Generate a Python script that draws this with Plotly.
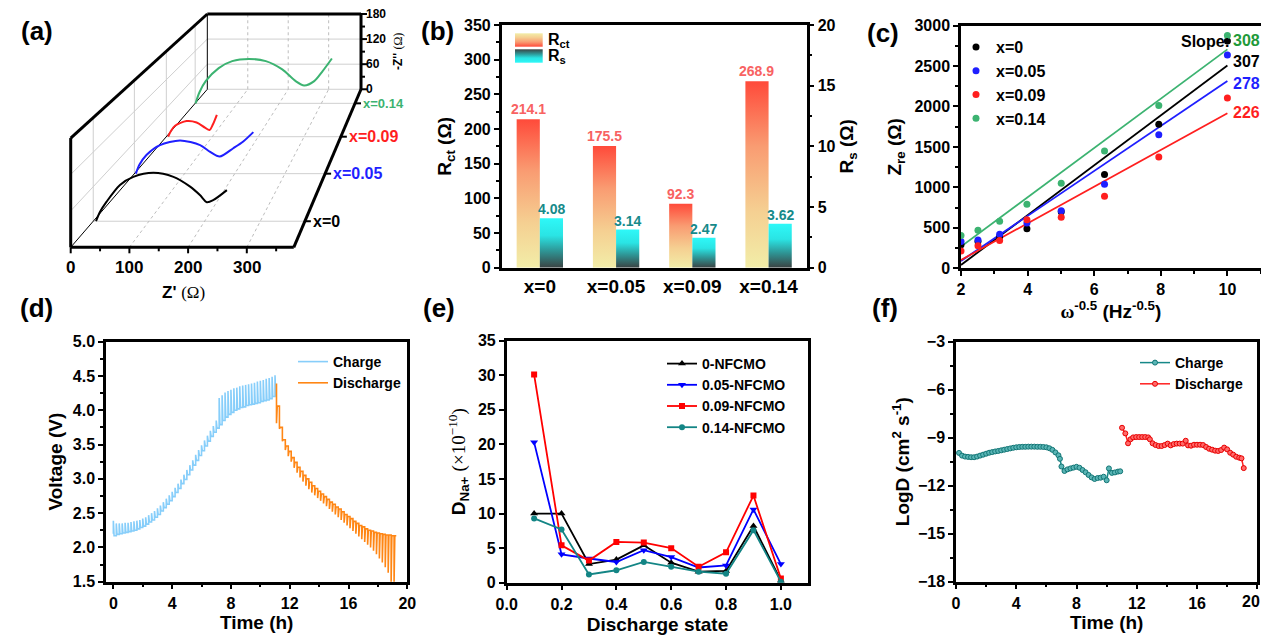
import plotly.graph_objects as go

W, H = 1269, 643           # browser window
OX, OY = 8, 8              # default page margin around the plot div
FW, FH = W - 2 * OX, H - 2 * OY
FONT = "Liberation Sans, Arial, sans-serif"
SERIF = "Liberation Serif, Times New Roman, serif"

# ---------------- (a) Nyquist plots (Z' , -Z'') ----------------
eis_names = ["x=0", "x=0.05", "x=0.09", "x=0.14"]
eis_colors = ["#000000", "#1f1fff", "#ff1f1f", "#3cb371"]
eis_depth = [0.165, 0.466, 0.70, 0.911]
eis_zre_x0 = [5, 12, 24, 48, 72, 108, 144, 174, 192, 204, 216, 240]
eis_zim_x0 = [0, 16, 34, 63, 77, 84, 77, 60, 45, 33, 37, 54]
eis_zre_x005 = [3, 10, 24, 51, 91, 131, 151, 170, 197, 217, 237]
eis_zim_x005 = [0, 17, 36, 55, 64, 55, 42, 33, 49, 62, 80]
eis_zre_x009 = [4, 10, 19, 44, 66, 84, 94, 101, 110]
eis_zim_x009 = [0, 12, 23, 33, 30, 19, 14, 25, 46]
eis_zre_x014 = [1, 10, 25, 56, 88, 128, 168, 207, 239, 259, 283, 303, 325]
eis_zim_x014 = [0, 25, 51, 81, 97, 102, 97, 78, 51, 41, 51, 74, 103]
a_zre_ticks = [0, 100, 200, 300]
a_zim_ticks = [0, 60, 120, 180]
A_ZRE_MAX, A_ZIM_MAX = 380, 180

# ---------------- (b) Rct / Rs bars ----------------
b_cats = ["x=0", "x=0.05", "x=0.09", "x=0.14"]
b_rct = [214.1, 175.5, 92.3, 268.9]
b_rs = [4.08, 3.14, 2.47, 3.62]

# ---------------- (c) Zre vs w^-0.5 ----------------
c_w = [2.0, 2.51, 3.16, 3.98, 5.01, 6.31, 7.94, 10.0]
c_zre_x0 = [290, 330, 390, 490, 700, 1160, 1780, 2810]
c_zre_x005 = [330, 350, 420, 560, 710, 1040, 1650, 2635]
c_zre_x009 = [215, 280, 345, 600, 630, 890, 1375, 2105]
c_zre_x014 = [405, 470, 580, 790, 1050, 1450, 2010, 2875]
c_fit_w = [2.0, 10.0]
c_fit_x0 = [41, 2505]
c_fit_x005 = [91, 2315]
c_fit_x009 = [103, 1915]
c_fit_x014 = [268, 2705]
c_slopes = ["307", "278", "226", "308"]

# ---------------- (d) GITT voltage profile ----------------
d_chg_t = [0.0, 0.2, 0.4, 0.6, 0.8, 1.0, 1.2, 1.4, 1.6, 1.8,
           2.0, 2.2, 2.4, 2.6, 2.8, 3.0, 3.2, 3.4, 3.6, 3.8,
           4.0, 4.2, 4.4, 4.6, 4.8, 5.0, 5.2, 5.4, 5.6, 5.8,
           6.0, 6.2, 6.4, 6.6, 6.8, 7.0, 7.2, 7.4, 7.6, 7.8,
           8.0, 8.2, 8.4, 8.6, 8.8, 9.0, 9.2, 9.4, 9.6, 9.8,
           10.0, 10.2, 10.4, 10.6, 10.8, 11.0]
d_chg_low = [2.20, 2.17, 2.19, 2.20, 2.21, 2.22, 2.23, 2.24, 2.25, 2.27,
             2.29, 2.31, 2.34, 2.37, 2.40, 2.44, 2.48, 2.53, 2.58, 2.63,
             2.68, 2.74, 2.80, 2.86, 2.93, 2.99, 3.06, 3.13, 3.20, 3.27,
             3.34, 3.41, 3.48, 3.55, 3.62, 3.68, 3.74, 3.79, 3.85, 3.90,
             3.94, 3.97, 4.00, 4.02, 4.04, 4.05, 4.07, 4.08, 4.09, 4.10,
             4.11, 4.13, 4.14, 4.15, 4.17, 4.20]
d_chg_high = [2.39, 2.35, 2.35, 2.35, 2.36, 2.36, 2.37, 2.38, 2.39, 2.40,
              2.42, 2.44, 2.47, 2.50, 2.53, 2.57, 2.61, 2.66, 2.71, 2.76,
              2.81, 2.87, 2.93, 2.99, 3.06, 3.13, 3.20, 3.27, 3.35, 3.42,
              3.49, 3.56, 3.63, 3.70, 3.77, 3.85, 4.18, 4.22, 4.26, 4.28,
              4.30, 4.32, 4.33, 4.35, 4.36, 4.37, 4.38, 4.39, 4.40, 4.42,
              4.43, 4.44, 4.46, 4.47, 4.49, 4.51]
d_dis_t = [11.1, 11.3, 11.5, 11.7, 11.9, 12.1, 12.3, 12.5, 12.7, 12.9,
           13.1, 13.3, 13.5, 13.7, 13.9, 14.1, 14.3, 14.5, 14.7, 14.9,
           15.1, 15.3, 15.5, 15.7, 15.9, 16.1, 16.3, 16.5, 16.7, 16.9,
           17.1, 17.3, 17.5, 17.7, 17.9, 18.1, 18.3, 18.5, 18.7, 18.9, 19.1]
d_dis_top = [4.39, 4.06, 3.75, 3.57, 3.48, 3.40, 3.31, 3.24, 3.17, 3.11,
             3.05, 3.00, 2.95, 2.90, 2.86, 2.82, 2.78, 2.74, 2.70, 2.66,
             2.63, 2.59, 2.56, 2.52, 2.48, 2.45, 2.42, 2.38, 2.35, 2.32,
             2.30, 2.27, 2.25, 2.24, 2.22, 2.21, 2.20, 2.19, 2.18, 2.18, 2.17]
d_dis_bottom = [3.81, 3.73, 3.55, 3.42, 3.33, 3.25, 3.16, 3.09, 3.02, 2.96,
                2.90, 2.85, 2.80, 2.76, 2.72, 2.68, 2.64, 2.60, 2.56, 2.52,
                2.48, 2.44, 2.40, 2.36, 2.32, 2.28, 2.24, 2.20, 2.16, 2.12,
                2.08, 2.04, 2.00, 1.95, 1.90, 1.84, 1.78, 1.71, 1.63, 1.48, 1.48]
d_dis_end = [19.25, 2.17]

# ---------------- (e) D_Na+ vs discharge state ----------------
e_state = [0.1, 0.2, 0.3, 0.4, 0.5, 0.6, 0.7, 0.8, 0.9, 1.0]
e_d_0 = [10.0, 10.0, 2.7, 3.35, 5.4, 2.9, 1.6, 1.7, 8.2, 0.3]
e_d_005 = [20.3, 4.1, 3.5, 3.0, 4.7, 3.7, 2.2, 2.5, 10.6, 2.7]
e_d_009 = [30.1, 5.4, 3.2, 5.9, 5.8, 5.0, 2.3, 4.4, 12.6, 0.6]
e_d_014 = [9.3, 7.7, 1.2, 1.8, 3.0, 2.3, 1.6, 1.3, 7.6, 0.15]

# ---------------- (f) LogD vs time ----------------
f_time_ticks = [0, 4, 8, 12, 16, 20]
f_chg_t = [0.2, 0.4, 0.6, 0.8, 1.0, 1.2, 1.4, 1.6, 1.8, 2.0,
           2.2, 2.4, 2.6, 2.8, 3.0, 3.2, 3.4, 3.6, 3.8, 4.0,
           4.2, 4.4, 4.6, 4.8, 5.0, 5.2, 5.4, 5.6, 5.8, 6.0,
           6.2, 6.4, 6.6, 6.8, 6.9, 7.0, 7.2, 7.4, 7.6, 7.8,
           8.0, 8.2, 8.4, 8.6, 8.8, 9.0, 9.2, 9.4, 9.6, 9.8,
           10.0, 10.15, 10.35, 10.55, 10.75, 10.9]
f_chg_logd = [-9.95, -10.12, -10.18, -10.2, -10.22, -10.22, -10.18, -10.12, -10.06, -10.0,
              -9.94, -9.9, -9.86, -9.83, -9.79, -9.75, -9.71, -9.67, -9.63, -9.6,
              -9.58, -9.57, -9.57, -9.56, -9.56, -9.56, -9.57, -9.57, -9.58, -9.6,
              -9.66, -9.76, -9.92, -10.1, -10.32, -10.8, -11.08, -10.98, -10.92, -10.87,
              -10.82, -10.88, -11.02, -11.16, -11.33, -11.48, -11.58, -11.52, -11.5, -11.44,
              -11.66, -10.92, -11.2, -11.17, -11.12, -11.1]
f_dis_t = [11.02, 11.24, 11.42, 11.58, 11.76, 11.96, 12.16, 12.36, 12.56, 12.76,
           12.87, 13.05, 13.25, 13.45, 13.65, 13.85, 14.05, 14.25, 14.45, 14.65,
           14.85, 15.05, 15.25, 15.4, 15.6, 15.8, 16.0, 16.2, 16.4, 16.6,
           16.8, 17.0, 17.2, 17.4, 17.6, 17.8, 18.0, 18.2, 18.4, 18.6,
           18.8, 18.95, 19.1]
f_dis_logd = [-8.38, -8.73, -9.35, -9.1, -8.98, -8.96, -8.96, -8.96, -8.96, -8.98,
              -9.1, -9.35, -9.46, -9.52, -9.52, -9.46, -9.37, -9.48, -9.4, -9.37,
              -9.37, -9.37, -9.19, -9.48, -9.5, -9.44, -9.44, -9.44, -9.46, -9.58,
              -9.69, -9.75, -9.81, -9.83, -9.77, -9.62, -9.73, -9.94, -10.06, -10.19,
              -10.25, -10.29, -10.9]

# =====================================================================
fig = go.Figure()

# ---- (a) perspective projection onto a screen-pixel canvas axis (x7/y7) ----
P_ORIG = (70.7, 247.3)
P_KX, P_KY = 0.587, 0.607
P_VP = (510.0, -260.8)
P_TB = 0.311


def proj(zr, zi, d):
    x0 = P_ORIG[0] + zr * P_KX
    y0 = P_ORIG[1] - zi * P_KY
    f = d * P_TB
    return x0 + (P_VP[0] - x0) * f, y0 + (P_VP[1] - y0) * f


CAN = dict(xaxis="x7", yaxis="y7", showlegend=False, hoverinfo="skip")


def lines3(segs, color, width, dash="solid"):
    xs, ys = [], []
    for p, q in segs:
        x1, y1 = proj(*p)
        x2, y2 = proj(*q)
        xs += [x1, x2, None]
        ys += [y1, y2, None]
    fig.add_trace(go.Scatter(x=xs, y=ys, mode="lines",
                             line=dict(color=color, width=width, dash=dash), **CAN))


def lines2(segs, color, width):
    xs, ys = [], []
    for (x1, y1), (x2, y2) in segs:
        xs += [x1, x2, None]
        ys += [y1, y2, None]
    fig.add_trace(go.Scatter(x=xs, y=ys, mode="lines",
                             line=dict(color=color, width=width), **CAN))


GRID = "#cfcfcf"
grid_solid = [((0, 0, 1), (A_ZRE_MAX, 0, 1))]
for d in eis_depth:
    grid_solid.append(((0, 0, d), (A_ZRE_MAX, 0, d)))
    grid_solid.append(((0, 0, d), (0, A_ZIM_MAX, d)))
for v in a_zim_ticks[1:-1]:
    grid_solid.append(((0, v, 0), (0, v, 1)))
    grid_solid.append(((0, v, 1), (A_ZRE_MAX, v, 1)))
lines3(grid_solid, GRID, 1)
grid_dot = []
for v in a_zre_ticks[1:]:
    grid_dot.append(((v, 0, 0), (v, 0, 1)))
    grid_dot.append(((v, 0, 1), (v, A_ZIM_MAX, 1)))
lines3(grid_dot, "#bdbdbd", 1, "dot")
lines3([((0, 0, 0), (0, 0, 1)), ((0, 0, 1), (0, A_ZIM_MAX, 1))], "#000000", 1)

eis_series = [(eis_zre_x0, eis_zim_x0), (eis_zre_x005, eis_zim_x005),
              (eis_zre_x009, eis_zim_x009), (eis_zre_x014, eis_zim_x014)]
for (zr, zi), d, col in zip(eis_series, eis_depth, eis_colors):
    pts = [proj(a, b, d) for a, b in zip(zr, zi)]
    fig.add_trace(go.Scatter(x=[p[0] for p in pts], y=[p[1] for p in pts], mode="lines",
                             line=dict(color=col, width=2, shape="spline", smoothing=0.8), **CAN))

thick = [((0, 0, 0), (A_ZRE_MAX, 0, 0)), ((0, 0, 0), (0, A_ZIM_MAX, 0)),
         ((0, A_ZIM_MAX, 0), (0, A_ZIM_MAX, 1)), ((A_ZRE_MAX, 0, 0), (A_ZRE_MAX, 0, 1)),
         ((A_ZRE_MAX, 0, 1), (A_ZRE_MAX, A_ZIM_MAX, 1)), ((0, A_ZIM_MAX, 1), (A_ZRE_MAX, A_ZIM_MAX, 1))]
lines3(thick, "#000000", 3)

# ticks of (a)
tk = []
for v in range(0, 351, 50):
    x, y = proj(v, 0, 0)
    tk.append(((x, y), (x, y + (6 if v % 100 == 0 else 4))))
for v in range(0, 181, 30):
    x, y = proj(A_ZRE_MAX, v, 1)
    tk.append(((x, y), (x + (6 if v % 60 == 0 else 4), y)))
for d in eis_depth:
    x, y = proj(A_ZRE_MAX, 0, d)
    tk.append(((x, y), (x + 6, y)))
lines2(tk, "#000000", 2)

annotations = []
for v in a_zre_ticks:
    x, y = proj(v, 0, 0)
    annotations.append(dict(x=x, y=y + 20, xref="x7", yref="y7", text=str(v), showarrow=False,
                            font=dict(family=FONT, size=17, color="black", weight="bold")))
for v in a_zim_ticks:
    x, y = proj(A_ZRE_MAX, v, 1)
    annotations.append(dict(x=x + 3, y=y, xref="x7", yref="y7", text=str(v), showarrow=False,
                            xanchor="left", font=dict(family=FONT, size=12, color="black", weight="bold")))
for name, d, col, sz in zip(eis_names, eis_depth, eis_colors, [16, 16, 16, 13]):
    x, y = proj(A_ZRE_MAX, 0, d)
    annotations.append(dict(x=x + 6, y=y, xref="x7", yref="y7", text=name, showarrow=False,
                            xanchor="left", font=dict(family=FONT, size=sz, color=col, weight="bold")))
annotations.append(dict(x=183, y=292, xref="x7", yref="y7", showarrow=False,
                        text="<b>Z'</b> <span style='font-family:Liberation Serif'>(Ω)</span>",
                        font=dict(family=FONT, size=17, color="black")))
annotations.append(dict(x=398, y=52, xref="x7", yref="y7", showarrow=False, textangle=-90,
                        text="<b>-Z''</b> <span style='font-family:Liberation Serif'>(Ω)</span>",
                        font=dict(family=FONT, size=12, color="black")))

# ---- (b) gradient bars ----
BW = 0.304
rct_scale = [[0, "#f2eda8"], [0.3, "#f5d092"], [0.65, "#f99c72"], [1, "#ff4a3a"]]
rs_scale = [[0, "#3b4343"], [0.35, "#2e9898"], [0.65, "#2ae4e4"], [1, "#2ef8f8"]]
for i, v in enumerate(b_rct):
    fig.add_trace(go.Scatter(x=[i - BW, i, i, i - BW, i - BW], y=[0, 0, v, v, 0], fill="toself",
                             mode="lines", line=dict(width=0),
                             fillgradient=dict(type="vertical", colorscale=rct_scale),
                             xaxis="x", yaxis="y", showlegend=False, hoverinfo="skip"))
    annotations.append(dict(x=i - BW / 2, y=v, xref="x", yref="y", yshift=10, showarrow=False,
                            text=f"{v:.1f}", font=dict(family=FONT, size=14, color="#f86262", weight="bold")))
for i, v in enumerate(b_rs):
    fig.add_trace(go.Scatter(x=[i, i + BW, i + BW, i, i], y=[0, 0, v, v, 0], fill="toself",
                             mode="lines", line=dict(width=0),
                             fillgradient=dict(type="vertical", colorscale=rs_scale),
                             xaxis="x", yaxis="y2", showlegend=False, hoverinfo="skip"))
    annotations.append(dict(x=i + BW / 2, y=v, xref="x", yref="y2", yshift=9, showarrow=False,
                            text=f"{v:.2f}", font=dict(family=FONT, size=14, color="#168a8a", weight="bold")))
# legend swatches for (b) (canvas axis: y grows downward, so scales are flipped)
rct_scale_flip = [[1 - s, c] for s, c in reversed(rct_scale)]
rs_scale_flip = [[1 - s, c] for s, c in reversed(rs_scale)]
for (y0, y1), sc in [((33.3, 46.7), rct_scale_flip), ((49.3, 62.7), rs_scale_flip)]:
    fig.add_trace(go.Scatter(x=[515, 542.7, 542.7, 515, 515], y=[y0, y0, y1, y1, y0], fill="toself",
                             mode="lines", line=dict(width=0),
                             fillgradient=dict(type="vertical", colorscale=sc), **CAN))
annotations.append(dict(x=546, y=40, xref="x7", yref="y7", xanchor="left", showarrow=False,
                        text="R<sub>ct</sub>", font=dict(family=FONT, size=16, color="black", weight="bold")))
annotations.append(dict(x=546, y=56, xref="x7", yref="y7", xanchor="left", showarrow=False,
                        text="R<sub>s</sub>", font=dict(family=FONT, size=16, color="black", weight="bold")))

# ---- (c) ----
c_series = [("x=0", c_zre_x0, c_fit_x0, "#000000"), ("x=0.05", c_zre_x005, c_fit_x005, "#1f1fff"),
            ("x=0.09", c_zre_x009, c_fit_x009, "#ff1f1f"), ("x=0.14", c_zre_x014, c_fit_x014, "#3cb371")]
for name, ys, fit, col in c_series:
    fig.add_trace(go.Scatter(x=c_fit_w, y=fit, mode="lines", line=dict(color=col, width=1.8),
                             xaxis="x3", yaxis="y3", showlegend=False, hoverinfo="skip"))
for name, ys, fit, col in c_series:
    fig.add_trace(go.Scatter(x=c_w, y=ys, mode="markers", name=name, marker=dict(color=col, size=7),
                             xaxis="x3", yaxis="y3", legend="legend"))
annotations.append(dict(x=1232, y=41.7, xref="x7", yref="y7", xanchor="right", showarrow=False,
                        text="Slope:", font=dict(family=FONT, size=16, color="black", weight="bold")))
for txt, col, y in zip(c_slopes, ["#000000", "#1f1fff", "#ff1f1f", "#1f9a3a"], [61.7, 83.3, 112.7, 40.7]):
    annotations.append(dict(x=1231, y=y, xref="x7", yref="y7", xanchor="left", showarrow=False,
                            text=txt, font=dict(family=FONT, size=16, color=col, weight="bold")))

# ---- (d) GITT ----
PW = 0.05
cx, cy = [], []
for i, t in enumerate(d_chg_t):
    nxt = d_chg_low[i + 1] if i + 1 < len(d_chg_t) else d_chg_low[i]
    cx += [t, t, t + PW, t + PW]
    cy += [d_chg_low[i], d_chg_high[i], d_chg_high[i], nxt]
fig.add_trace(go.Scatter(x=cx, y=cy, mode="lines", name="Charge", line=dict(color="#87cefa", width=1.6),
                         xaxis="x4", yaxis="y4", legend="legend2"))
dx, dy = [], []
for i, t in enumerate(d_dis_t):
    nxt = d_dis_top[i + 1] if i + 1 < len(d_dis_t) else d_dis_end[1]
    dx += [t, t, t + PW, t + PW]
    dy += [d_dis_top[i], d_dis_bottom[i], d_dis_bottom[i], nxt]
dx.append(d_dis_end[0])
dy.append(d_dis_end[1])
fig.add_trace(go.Scatter(x=dx, y=dy, mode="lines", name="Discharge", line=dict(color="#ff8614", width=1.6),
                         xaxis="x4", yaxis="y4", legend="legend2"))

# ---- (e) ----
e_series = [("0-NFCMO", e_d_0, "#000000", "triangle-up", 7),
            ("0.05-NFCMO", e_d_005, "#0000ff", "triangle-down", 7),
            ("0.09-NFCMO", e_d_009, "#ff0000", "square", 6),
            ("0.14-NFCMO", e_d_014, "#138585", "circle", 6)]
for name, ys, col, sym, sz in e_series:
    fig.add_trace(go.Scatter(x=e_state, y=ys, mode="lines+markers", name=name,
                             line=dict(color=col, width=1.8), marker=dict(symbol=sym, size=sz, color=col),
                             xaxis="x5", yaxis="y5", legend="legend3"))

# ---- (f) ----
fig.add_trace(go.Scatter(x=f_chg_t, y=f_chg_logd, mode="lines+markers", name="Charge",
                         line=dict(color="#168888", width=1.5),
                         marker=dict(symbol="circle", size=5, color="#5ab5b5", line=dict(color="#127575", width=1)),
                         xaxis="x6", yaxis="y6", legend="legend4"))
fig.add_trace(go.Scatter(x=f_dis_t, y=f_dis_logd, mode="lines+markers", name="Discharge",
                         line=dict(color="#ff2020", width=1.5),
                         marker=dict(symbol="circle", size=5, color="#ff6a6a", line=dict(color="#e80000", width=1)),
                         xaxis="x6", yaxis="y6", legend="legend4"))
# last time label of (f) sits at the very window edge: drawn as an annotation kept inside the page
annotations.append(dict(x=OX + FW, y=601.7, xref="x7", yref="y7", xanchor="right", showarrow=False,
                        text=str(f_time_ticks[-1]), borderpad=0,
                        font=dict(family=FONT, size=16, color="black", weight="bold")))

# ---- panel letters ----
for txt, x, y in [("(a)", 36.7, 31), ("(b)", 437.5, 31), ("(c)", 882.5, 32.5),
                  ("(d)", 36.7, 308), ("(e)", 439, 308), ("(f)", 885, 308)]:
    annotations.append(dict(x=x, y=y, xref="x7", yref="y7", showarrow=False, text=txt,
                            font=dict(family=FONT, size=26, color="black", weight="bold")))


# ---------------- layout (positions given in window pixels) ----------------
def px(a):
    return (a - OX) / FW


def py(a):
    return 1 - (a - OY) / FH


def xd(a, b):
    return [px(a), px(b)]


def yd(top, bottom):
    return [py(bottom), py(top)]


TF = dict(family=FONT, size=16, color="black", weight="bold")


def ax(**kw):
    d = dict(showline=True, linecolor="black", linewidth=2.5, mirror=True,
             ticks="outside", ticklen=5, tickwidth=2, tickcolor="black", automargin=False,
             showgrid=False, zeroline=False, fixedrange=True, tickfont=TF)
    d.update(kw)
    return d


def ttl(text, standoff, size=19):
    return dict(text=text, standoff=standoff, font=dict(family=FONT, size=size, color="black", weight="bold"))


def minor(dt):
    return dict(ticks="outside", ticklen=3, tickwidth=1.5, tickcolor="black", dtick=dt)


LEGF = dict(family=FONT, size=14, color="black", weight="bold")
fig.update_layout(
    width=FW, height=FH, autosize=False,
    margin=dict(l=0, r=0, t=0, b=0, pad=0, autoexpand=False),
    paper_bgcolor="white", plot_bgcolor="rgba(0,0,0,0)",
    font=dict(family=FONT, color="black"),
    # (b)
    xaxis=ax(domain=xd(501.7, 806.7), anchor="y", range=[-0.5, 3.5], tickvals=[0, 1, 2, 3],
             ticktext=b_cats, ticks="", tickfont=dict(family=FONT, size=19, color="black", weight="bold")),
    yaxis=ax(domain=yd(25, 267.7), anchor="x", range=[0, 350], dtick=50, minor=minor(25),
             title=ttl("R<sub>ct</sub> (Ω)", 8)),
    yaxis2=ax(domain=yd(25, 267.7), anchor="x", overlaying="y", side="right", mirror=False,
              range=[0, 20], dtick=5, minor=minor(2.5), title=ttl("R<sub>s</sub> (Ω)", 4)),
    # (c)
    xaxis3=ax(domain=xd(961, 1260.7), anchor="y3", range=[2, 11], tick0=2, dtick=2, minor=minor(1),
              title=ttl("<span style='font-family:Liberation Serif'>ω</span><sup>-0.5</sup> (Hz<sup>-0.5</sup>)", 8)),
    yaxis3=ax(domain=yd(25.5, 268.3), anchor="x3", range=[0, 3000], dtick=500, minor=minor(250),
              title=ttl("Z<sub>re</sub> (Ω)", 8)),
    # (d)
    xaxis4=ax(domain=xd(106, 407.3), anchor="y4", range=[-0.5, 20], tick0=0, dtick=4, minor=minor(2),
              title=ttl("Time (h)", 6)),
    yaxis4=ax(domain=yd(341.7, 581.7), anchor="x4", range=[1.5, 5.0], dtick=0.5, tickformat=".1f",
              minor=minor(0.25), title=ttl("Voltage (V)", 6)),
    # (e)
    xaxis5=ax(domain=xd(506.7, 808.3), anchor="y5", range=[0, 1.1], dtick=0.2, tickformat=".1f",
              title=ttl("Discharge state", 8)),
    yaxis5=ax(domain=yd(340.7, 582.7), anchor="x5", range=[0, 35], dtick=5,
              title=ttl("D<sub>Na+</sub> <span style='font-family:Liberation Serif;font-weight:normal'>(×10<sup>−10</sup>)</span>", 8)),
    # (f)
    xaxis6=ax(domain=xd(956, 1257.3), anchor="y6", range=[0, 20], tickvals=f_time_ticks,
              ticktext=[str(v) for v in f_time_ticks[:-1]] + [""], minor=minor(2),
              title=ttl("Time (h)", 6)),
    yaxis6=ax(domain=yd(341.7, 581.7), anchor="x6", range=[-18, -3], dtick=3, minor=minor(1.5),
              title=ttl("LogD (cm<sup>2</sup> s<sup>-1</sup>)", 4)),
    # canvas (window pixel coordinates) for (a) and decorations
    xaxis7=dict(domain=[0, 1], anchor="y7", range=[OX, OX + FW], visible=False, fixedrange=True, automargin=False),
    yaxis7=dict(domain=[0, 1], anchor="x7", range=[OY + FH, OY], visible=False, fixedrange=True, automargin=False),
    legend=dict(x=px(956), y=py(30), xanchor="left", yanchor="top", bgcolor="rgba(0,0,0,0)",
                font=dict(family=FONT, size=16, color="black", weight="bold"), tracegroupgap=0),
    legend2=dict(x=px(293), y=py(346), xanchor="left", yanchor="top", bgcolor="rgba(0,0,0,0)",
                 font=LEGF, tracegroupgap=0),
    legend3=dict(x=px(662), y=py(348), xanchor="left", yanchor="top", bgcolor="rgba(0,0,0,0)",
                 font=LEGF, tracegroupgap=0),
    legend4=dict(x=px(1135), y=py(347), xanchor="left", yanchor="top", bgcolor="rgba(0,0,0,0)",
                 font=LEGF, tracegroupgap=0),
    annotations=annotations,
    showlegend=True,
)

fig.write_html("out.html")
